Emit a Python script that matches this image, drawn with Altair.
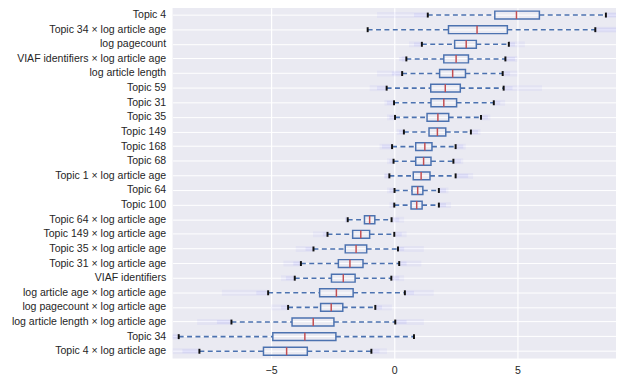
import altair as alt
import pandas as pd

labels = [
    "Topic 4", "Topic 34 \u00d7 log article age", "log pagecount",
    "VIAF identifiers \u00d7 log article age", "log article length", "Topic 59",
    "Topic 31", "Topic 35", "Topic 149", "Topic 168", "Topic 68",
    "Topic 1 \u00d7 log article age", "Topic 64", "Topic 100",
    "Topic 64 \u00d7 log article age", "Topic 149 \u00d7 log article age",
    "Topic 35 \u00d7 log article age", "Topic 31 \u00d7 log article age",
    "VIAF identifiers", "log article age \u00d7 log article age",
    "log pagecount \u00d7 log article age", "log article length \u00d7 log article age",
    "Topic 34", "Topic 4 \u00d7 log article age",
]
whisker_lo = [1.36, -1.08, 1.12, 0.49, 0.32, -0.31, -0.01, 0.03, 0.39, -0.09, -0.03, -0.20,
              0.01, 0.00, -1.89, -2.71, -3.28, -3.79, -4.04, -5.12, -4.31, -6.61, -8.75, -7.91]
q1 = [4.08, 2.20, 2.45, 2.01, 1.84, 1.48, 1.49, 1.33, 1.41, 0.87, 0.87, 0.77,
      0.72, 0.68, -1.21, -1.69, -1.99, -2.27, -2.55, -3.03, -2.99, -4.15, -4.93, -5.31]
median = [4.96, 3.36, 2.92, 2.51, 2.37, 2.07, 2.01, 1.77, 1.75, 1.24, 1.19, 1.09,
          0.95, 0.91, -1.00, -1.36, -1.55, -1.80, -2.07, -2.35, -2.56, -3.29, -3.63, -4.37]
q3 = [5.89, 4.59, 3.33, 3.01, 2.89, 2.68, 2.53, 2.21, 2.09, 1.53, 1.49, 1.45,
      1.16, 1.13, -0.79, -1.00, -1.12, -1.27, -1.59, -1.67, -2.09, -2.45, -2.37, -3.53]
whisker_hi = [8.59, 8.16, 4.65, 4.51, 4.40, 4.44, 4.04, 3.52, 3.11, 2.49, 2.40, 2.49,
              1.81, 1.81, -0.11, 0.00, 0.15, 0.20, -0.12, 0.43, -0.77, 0.04, 0.80, -0.93]
tail_lo = [-0.7, -1.1, 0.6, 0.3, -0.7, -1.0, -0.4, -0.3, 0.1, -0.6, -0.3, -0.4,
           -0.3, -0.2, -2.0, -3.3, -4.0, -4.5, -4.6, -7.0, -5.0, -8.0, -9.0, -9.0]
tail_hi = [9.0, 9.0, 5.3, 5.0, 5.0, 6.0, 4.5, 3.9, 3.5, 2.9, 2.8, 3.2,
           2.2, 2.3, 0.4, 0.5, 1.2, 1.1, 0.4, 1.6, -0.1, 1.2, 0.8, -0.3]
near_lo = [0.8, -1.1, 0.8, 0.2, -0.1, -0.7, -0.3, -0.2, 0.2, -0.5, -0.2, -0.4,
           -0.2, -0.1, -2.0, -2.9, -3.6, -4.1, -4.4, -5.6, -4.6, -7.2, -9.0, -8.6]
near_hi = [9.0, 9.0, 4.9, 4.9, 4.7, 4.8, 4.3, 3.8, 3.4, 2.8, 2.7, 3.0,
           2.1, 2.1, 0.2, 0.3, 0.4, 0.5, 0.2, 0.8, -0.5, 0.5, 0.8, -0.6]

df = pd.DataFrame({
    "label": labels, "wlo": whisker_lo, "q1": q1, "med": median,
    "q3": q3, "whi": whisker_hi, "tlo": tail_lo, "thi": tail_hi,
    "nlo": near_lo, "nhi": near_hi,
})

BLUE = "#4C72B0"
RED = "#C44E52"
FONT = "Liberation Sans"

y = alt.Y("label:N", sort=labels, title=None,
          scale=alt.Scale(paddingInner=0, paddingOuter=0),
          axis=alt.Axis(grid=True, bandPosition=0.5, gridColor="white", gridWidth=1,
                        domain=False, ticks=False, labelPadding=7, labelLimit=300,
                        labelFontSize=10.7, labelColor="#262626", labelFont=FONT))
xscale = alt.Scale(domain=[-9, 9], nice=False, zero=False)
xaxis = alt.Axis(values=[-5, 0, 5], grid=True, gridColor="white", gridWidth=1.2,
                 domain=False, ticks=False, labelPadding=7, labelFontSize=10.7,
                 labelColor="#262626", labelFont=FONT, format="d")


def X(field):
    return alt.X(field, scale=xscale, axis=xaxis, title=None)


base = alt.Chart(df)

haze_lo = base.mark_rule(color="#2a2aff", opacity=0.035, strokeWidth=6).encode(
    x=X("tlo:Q"), x2="wlo:Q", y=y)
haze_hi = base.mark_rule(color="#2a2aff", opacity=0.035, strokeWidth=6).encode(
    x=X("whi:Q"), x2="thi:Q", y=y)
near_l = base.mark_rule(color="#2a2aff", opacity=0.06, strokeWidth=4).encode(
    x=X("nlo:Q"), x2="wlo:Q", y=y)
near_h = base.mark_rule(color="#2a2aff", opacity=0.06, strokeWidth=4).encode(
    x=X("whi:Q"), x2="nhi:Q", y=y)
wh_lo = base.mark_rule(color=BLUE, strokeWidth=1.6, strokeDash=[5, 3.5]).encode(
    x=X("wlo:Q"), x2="q1:Q", y=y)
wh_hi = base.mark_rule(color=BLUE, strokeWidth=1.6, strokeDash=[5, 3.5]).encode(
    x=X("q3:Q"), x2="whi:Q", y=y)
box = base.mark_bar(size=8, fillOpacity=0, stroke=BLUE, strokeWidth=1.5, color=BLUE).encode(
    x=X("q1:Q"), x2="q3:Q", y=y)
med = base.mark_tick(color=RED, size=8, thickness=1.5, opacity=1).encode(
    x=X("med:Q"), y=y)
cap_lo = base.mark_tick(color="#111111", size=5, thickness=2, opacity=1).encode(
    x=X("wlo:Q"), y=y)
cap_hi = base.mark_tick(color="#111111", size=5, thickness=2, opacity=1).encode(
    x=X("whi:Q"), y=y)

chart = alt.layer(haze_lo, haze_hi, near_l, near_h, wh_lo, wh_hi, box, med, cap_lo, cap_hi).properties(
    width=450, height=356,
    autosize=alt.AutoSizeParams(type="none"),
    padding={"left": 167, "top": -3, "right": 0, "bottom": 20},
).configure_view(fill="#EAEAF2", stroke=None)

chart.save("out.html", embed_options={"renderer": "svg", "actions": False})
